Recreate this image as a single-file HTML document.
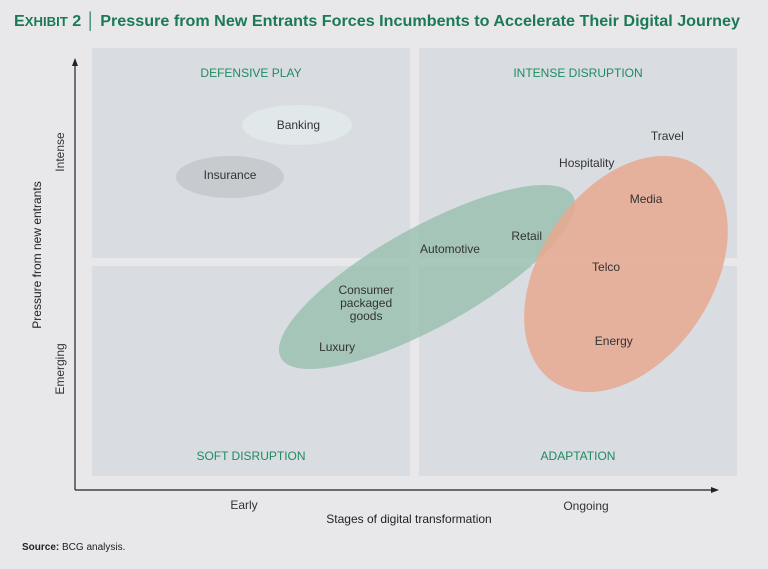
<!DOCTYPE html>
<html><head><meta charset="utf-8"><style>
body{margin:0;background:#e8e8ea;font-family:"Liberation Sans",sans-serif;}
svg text{font-family:"Liberation Sans",sans-serif;}
</style></head><body>
<svg width="768" height="564" viewBox="0 0 768 564">
<rect width="768" height="564" fill="#e8e8ea"/>
<text x="14" y="26" font-size="16" font-weight="bold" fill="#1b7a55" textLength="726" lengthAdjust="spacingAndGlyphs">E<tspan font-size="13">XHIBIT</tspan> 2 │ Pressure from New Entrants Forces Incumbents to Accelerate Their Digital Journey</text>
<g id="quads"></g>
<g id="blobs"></g>
<g id="labels"></g>
<line x1="75" y1="490" x2="75" y2="64" stroke="#222" stroke-width="1.2"/>
<polygon points="75,58 72,66 78,66" fill="#222"/>
<line x1="75" y1="490" x2="712" y2="490" stroke="#222" stroke-width="1.2"/>
<polygon points="719,490 711,487 711,493" fill="#222"/>
<text x="244" y="509" font-size="12" fill="#333" text-anchor="middle">Early</text>
<text x="586" y="510" font-size="12" fill="#333" text-anchor="middle">Ongoing</text>
<text x="409" y="523" font-size="12" fill="#222" text-anchor="middle">Stages of digital transformation</text>
<text transform="translate(64,152) rotate(-90)" font-size="12" fill="#333" text-anchor="middle">Intense</text>
<text transform="translate(64,369) rotate(-90)" font-size="12" fill="#333" text-anchor="middle">Emerging</text>
<text transform="translate(41,255) rotate(-90)" font-size="12" fill="#222" text-anchor="middle">Pressure from new entrants</text>
<text x="22" y="550" font-size="10" fill="#222"><tspan font-weight="bold">Source:</tspan> BCG analysis.</text>
</svg>
<script>
const quadNames=["DEFENSIVE PLAY","INTENSE DISRUPTION","SOFT DISRUPTION","ADAPTATION"];
const sectors=["Banking","Insurance","Travel","Hospitality","Media","Retail","Automotive","Telco","Consumer packaged goods","Luxury","Energy"];
const sectorX=[32.0,21.4,89.2,76.7,85.9,67.4,55.5,79.7,42.5,38.0,80.9];
const sectorY=[82.0,70.3,79.4,73.1,64.7,56.1,53.0,48.8,40.4,30.1,31.5];
const NS="http://www.w3.org/2000/svg";
const sx=v=>92+v/100*645, sy=v=>476-v/100*428;
const q=document.getElementById('quads');
const qr=[[92,48],[419,48],[92,266],[419,266]];
qr.forEach((p,i)=>{
 const r=document.createElementNS(NS,'rect');
 r.setAttribute('x',p[0]);r.setAttribute('y',p[1]);r.setAttribute('width',318);r.setAttribute('height',210);r.setAttribute('fill','#d9dde2');
 
 
 q.appendChild(r);
 const t=document.createElementNS(NS,'text');
 t.setAttribute('x',p[0]+159);t.setAttribute('y',i<2?p[1]+29:p[1]+194);t.setAttribute('font-size','12');t.setAttribute('fill','#1f8a60');t.setAttribute('text-anchor','middle');
 t.textContent=quadNames[i];
 
 
 q.appendChild(t);
});
const b=document.getElementById('blobs');
const blobs=[[297,125,55,20,0,'#e1e8e9',1],[230,177,54,21,0,'#c7cace',1],[427,277,167,50,-29,'#8fbba8',0.7],[626,274,130,86,-56,'#e6a88f',0.85]];
const blobNames=['banking-cluster','insurance-cluster','green-cluster','orange-cluster'];
blobs.forEach((e,i)=>{
 const el=document.createElementNS(NS,'ellipse');
 el.setAttribute('cx',e[0]);el.setAttribute('cy',e[1]);el.setAttribute('rx',e[2]);el.setAttribute('ry',e[3]);
 el.setAttribute('transform',`rotate(${e[4]} ${e[0]} ${e[1]})`);el.setAttribute('fill',e[5]);el.setAttribute('opacity',e[6]);
 
 
 b.appendChild(el);
});
const L=document.getElementById('labels');
sectors.forEach((s,i)=>{
 const t=document.createElementNS(NS,'text');
 const x=sx(sectorX[i]),y=sy(sectorY[i]);
 t.setAttribute('x',x);t.setAttribute('y',y);t.setAttribute('font-size','12');t.setAttribute('fill','#333');t.setAttribute('text-anchor','middle');
 const words=s==="Consumer packaged goods"?["Consumer","packaged","goods"]:[s];
 words.forEach((w,j)=>{const sp=document.createElementNS(NS,'tspan');sp.setAttribute('x',x);sp.setAttribute('y',y+4+(j-(words.length-1)/2)*13);sp.textContent=w;t.appendChild(sp);});
 
 
 L.appendChild(t);
});
</script>
</body></html>
